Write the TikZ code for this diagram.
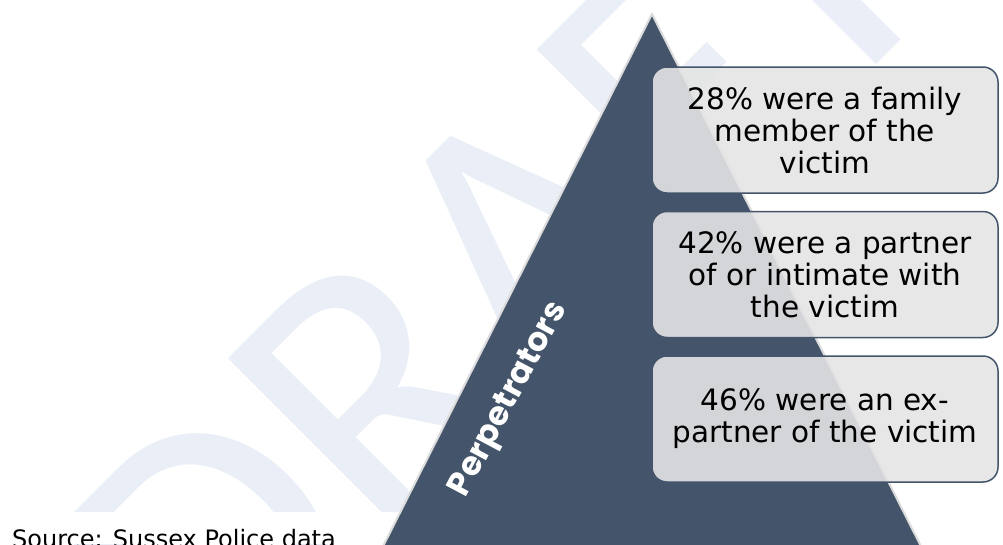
\documentclass[tikz,border=0pt]{standalone}
\usepackage{xcolor}
\usepackage{fontspec}
\setmainfont{DejaVu Sans}
\newfontfamily\perpfont{Poppins}
\newfontfamily\wmfont{Carlito}
\usetikzlibrary{positioning}

\definecolor{slate}{HTML}{44546A}
\definecolor{boxgray}{HTML}{E4E4E4}
\definecolor{wmblue}{HTML}{EAEFF7}
\definecolor{edgegray}{HTML}{DCDCDC}

\begin{document}
\begin{tikzpicture}[x=1pt,y=-1pt,
        factbox/.style={draw=slate, line width=1.5pt, fill=boxgray, fill opacity=0.9, text opacity=1,
            rounded corners=15pt, minimum width=346pt, minimum height=126pt, inner sep=0pt,
            align=center, font=\fontsize{29.5}{32}\selectfont}]
        \useasboundingbox (0,0) rectangle (1003,544);
        \clip (0,0) rectangle (1003,544);

        % watermark behind everything
        \node[rotate=45, anchor=base west, inner sep=0pt, text=wmblue,
            font=\wmfont\fontsize{390}{400}\selectfont] (draft) at (216,725) {DRAFT};
        \fill[white] (0,512) rectangle (420,544);

        \coordinate (apex) at (652,14);
        \coordinate (baseL) at (364,584);
        \coordinate (baseR) at (940,584);
        \filldraw[fill=slate, draw=edgegray, line width=2pt] (apex) -- (baseR) -- (baseL) -- cycle;

        \node[rotate=62, text=white, font=\perpfont\bfseries\fontsize{33}{33}\selectfont] (perp) at (510,400) {Perpetrators};

        \node[factbox] (family) at (825,130) {28\% were a family\\member of the\\victim};
        \node[factbox, below=17pt of family] (partner) {42\% were a partner\\of or intimate with\\the victim};
        \node[factbox, below=17pt of partner] (expartner) {46\% were an ex-\\partner of the victim};

        \node[anchor=base west, inner sep=0pt, font=\fontsize{24}{24}\selectfont] (source) at (12,547) {Source: Sussex Police data};

    \end{tikzpicture}
\end{document}
